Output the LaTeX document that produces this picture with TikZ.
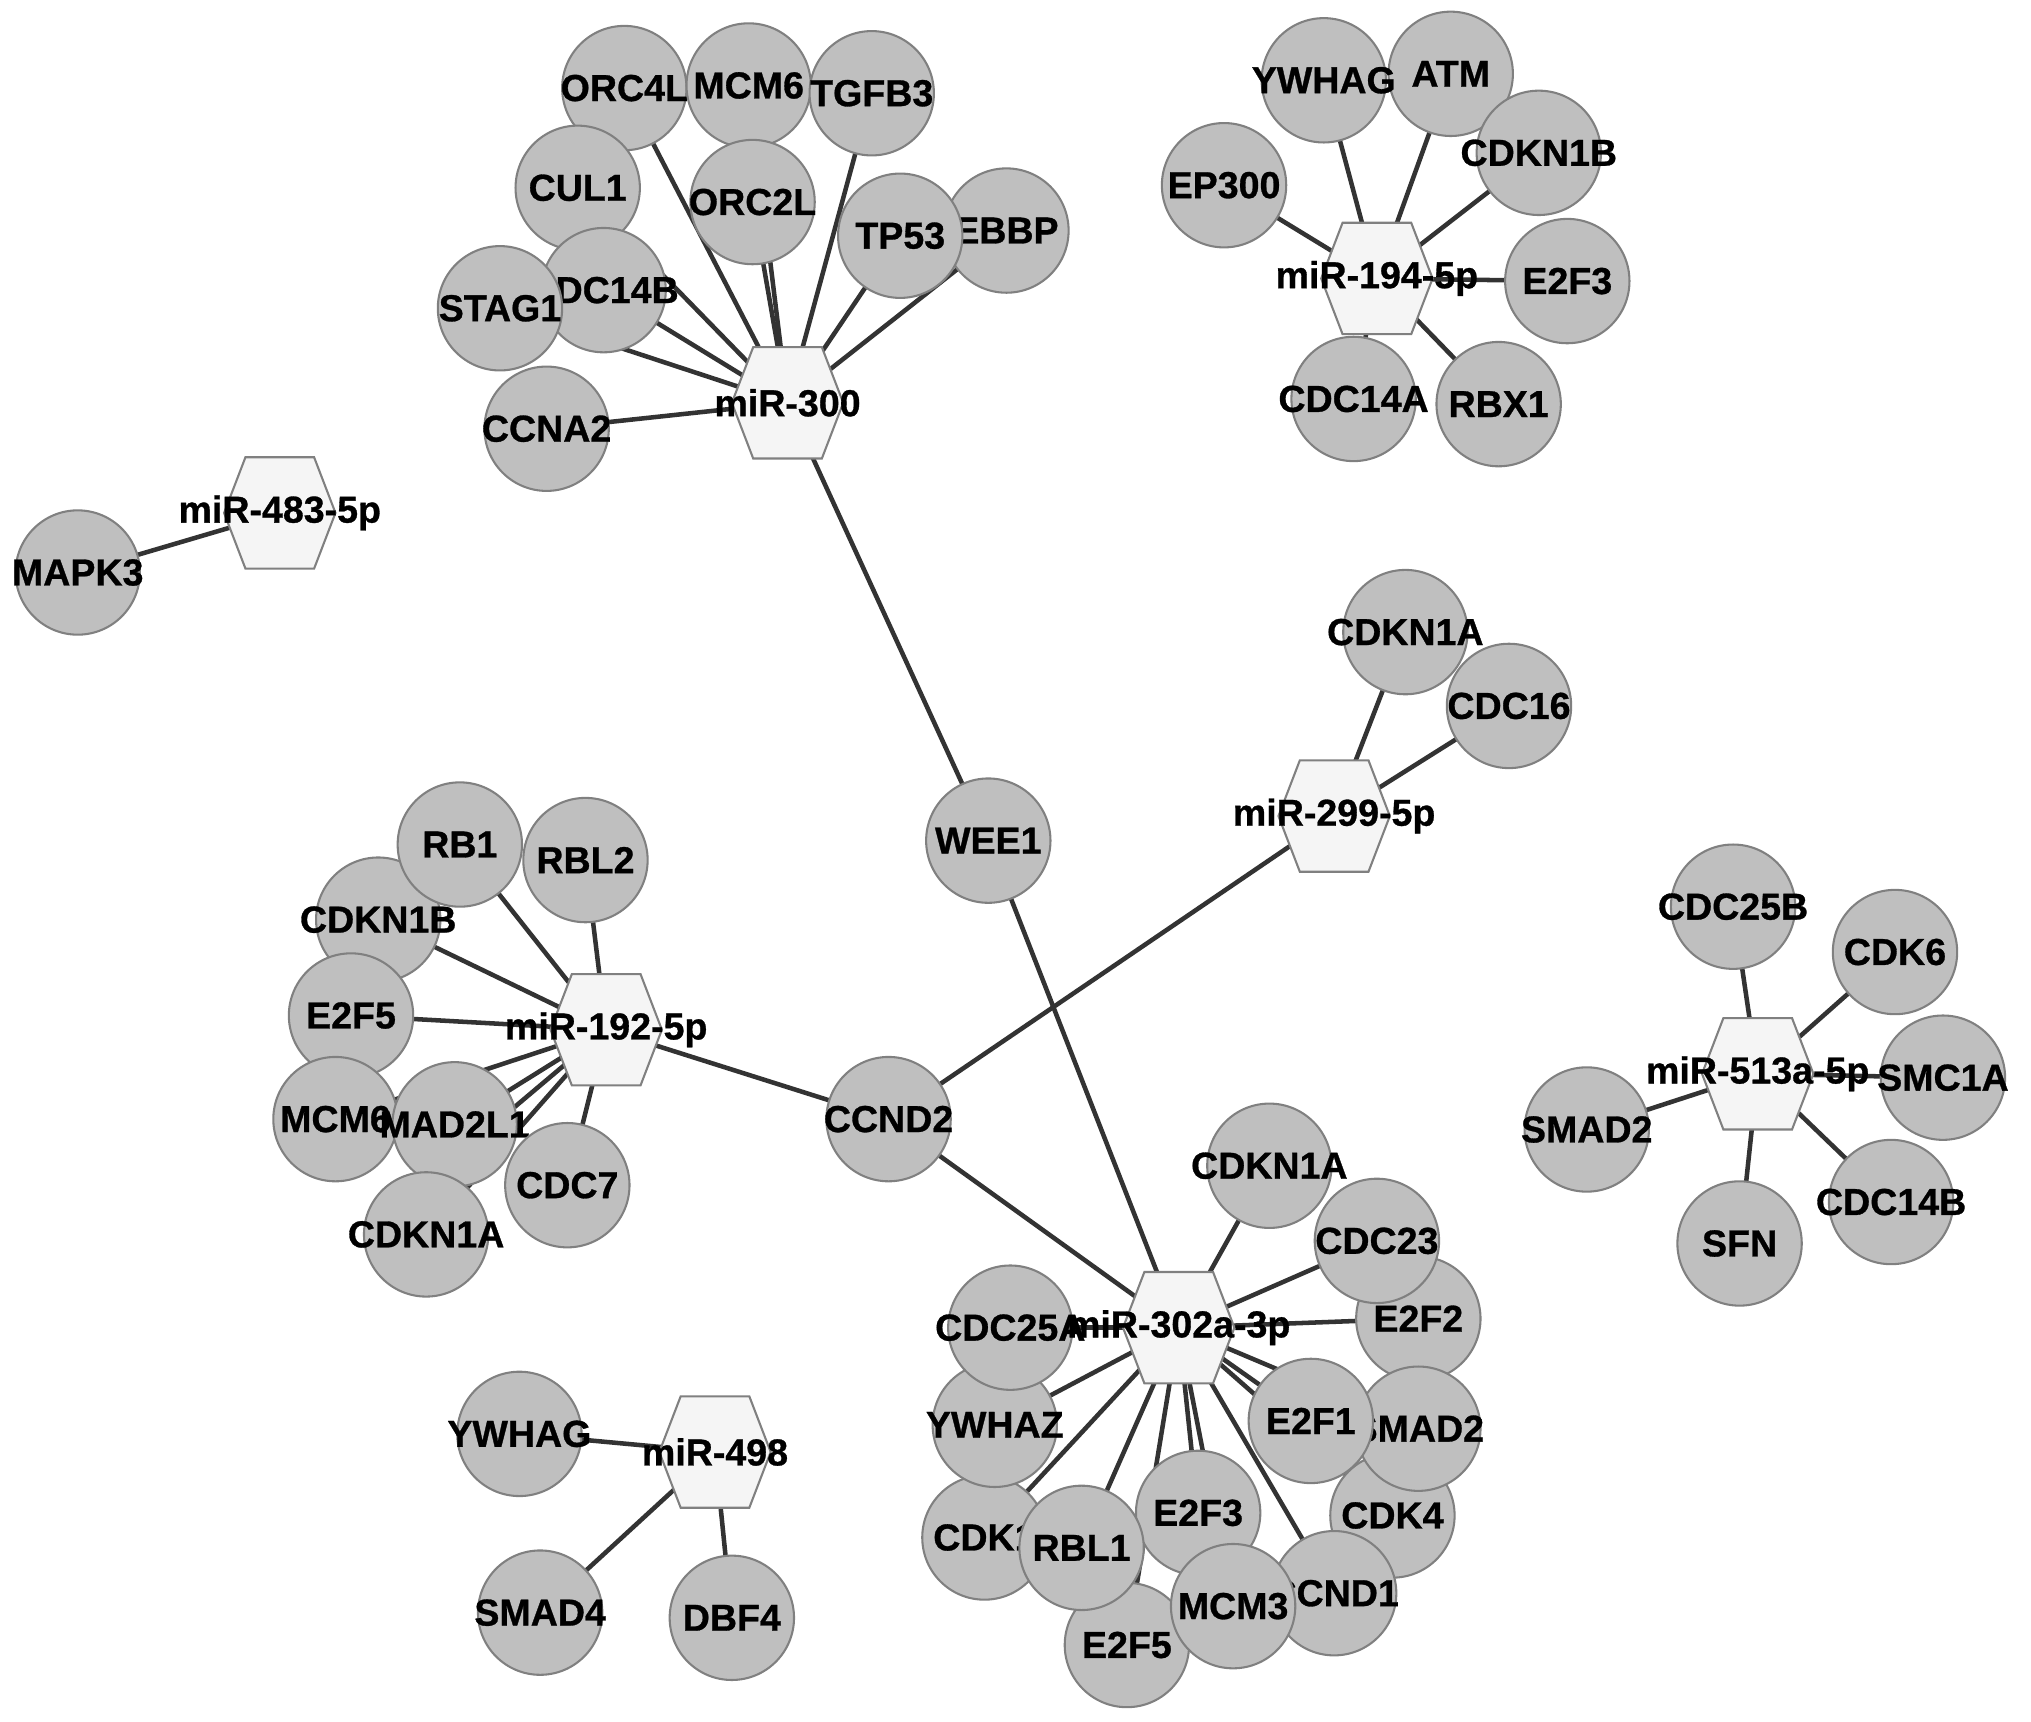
\documentclass[tikz,border=0pt]{standalone}
\usepackage{fontspec}
\setmainfont{Liberation Sans}
\newfontfamily\lblfont[BoldFont={Liberation Sans Bold},BoldFeatures={FakeBold=0.8}]{Liberation Sans}
\pgfdeclarelayer{bg}
\pgfsetlayers{bg,main}
\definecolor{nfill}{gray}{0.75}
\definecolor{nborder}{gray}{0.5}
\definecolor{hfill}{gray}{0.96}
\definecolor{hborder}{gray}{0.5}
\definecolor{edgec}{gray}{0.2}
\newcommand\gfont{\lblfont\fontsize{29}{34}\selectfont\bfseries}
\newcommand\zw[1]{\makebox[0pt][c]{#1}}
\begin{document}
\begin{tikzpicture}[x=1pt,y=-1pt,
  gene/.style={circle, minimum size=96pt, inner sep=0pt, fill=nfill, draw=nborder, line width=1.6pt, font=\gfont},
  mir/.style={rectangle, minimum width=92pt, minimum height=92pt, inner sep=0pt, font=\gfont,
    path picture={\filldraw[fill=hfill, draw=hborder, line width=1.6pt]
      ([xshift=-43pt]path picture bounding box.center)
      -- ([xshift=-26.5pt,yshift=43pt]path picture bounding box.center)
      -- ([xshift=26.5pt,yshift=43pt]path picture bounding box.center)
      -- ([xshift=43pt]path picture bounding box.center)
      -- ([xshift=26.5pt,yshift=-43pt]path picture bounding box.center)
      -- ([xshift=-26.5pt,yshift=-43pt]path picture bounding box.center) -- cycle;}},
  edge/.style={draw=edgec, line width=3.5pt}]
\useasboundingbox (0,0) rectangle (1568,1329);

% ---- miR-300 cluster
\node[gene] (orc4l) at (482,68) {\zw{ORC4L}};
\node[gene] (mcm6a) at (578,66) {\zw{MCM6}};
\node[gene] (tgfb3) at (673,72) {\zw{TGFB3}};
\node[gene] (cul1) at (446,145) {\zw{CUL1}};
\node[gene] (orc2l) at (581,156) {\zw{ORC2L}};
\node[gene] (cdc14ba) at (466,224) {\zw{CDC14B}};
\node[gene] (stag1) at (386,238) {\zw{STAG1}};
\node[gene] (ebbp) at (777,178) {\zw{EBBP}};
\node[gene] (tp53) at (695,182) {\zw{TP53}};
\node[gene] (ccna2) at (422,331) {\zw{CCNA2}};

% ---- miR-194-5p cluster
\node[gene] (ep300) at (945,143) {\zw{EP300}};
\node[gene] (atm) at (1120,57) {\zw{ATM}};
\node[gene] (ywhaga) at (1022,62) {\zw{YWHAG}};
\node[gene] (cdkn1ba) at (1188,118) {\zw{CDKN1B}};
\node[gene] (e2f3a) at (1210,217) {\zw{E2F3}};
\node[gene] (cdc14a) at (1045,308) {\zw{CDC14A}};
\node[gene] (rbx1) at (1157,312) {\zw{RBX1}};

% ---- miR-483-5p
\node[gene] (mapk3) at (60,442) {\zw{MAPK3}};

% ---- miR-299-5p
\node[gene] (cdkn1aa) at (1085,488) {\zw{CDKN1A}};
\node[gene] (cdc16) at (1165,545) {\zw{CDC16}};

% ---- hubs
\node[gene] (wee1) at (763,649) {\zw{WEE1}};
\node[gene] (ccnd2) at (686,864) {\zw{CCND2}};

% ---- miR-192-5p cluster
\node[gene] (cdkn1bb) at (292,710) {\zw{CDKN1B}};
\node[gene] (rb1) at (355,652) {\zw{RB1}};
\node[gene] (rbl2) at (452,664) {\zw{RBL2}};
\node[gene] (e2f5a) at (271,784) {\zw{E2F5}};
\node[gene] (mcm6b) at (259,864) {\zw{MCM6}};
\node[gene] (mad2l1) at (351,868) {\zw{MAD2L1}};
\node[gene] (cdkn1ab) at (329,953) {\zw{CDKN1A}};
\node[gene] (cdc7) at (438,915) {\zw{CDC7}};
\coordinate (hid) at (372,876);

% ---- miR-513a-5p cluster
\node[gene] (cdc25b) at (1338,700) {\zw{CDC25B}};
\node[gene] (cdk6) at (1463,735) {\zw{CDK6}};
\node[gene] (smc1a) at (1500,832) {\zw{SMC1A}};
\node[gene] (smad2a) at (1225,872) {\zw{SMAD2}};
\node[gene] (sfn) at (1343,960) {\zw{SFN}};
\node[gene] (cdc14bb) at (1460,928) {\zw{CDC14B}};

% ---- miR-498 cluster
\node[gene] (ywhagb) at (401,1107) {\zw{YWHAG}};
\node[gene] (smad4) at (417,1245) {\zw{SMAD4}};
\node[gene] (dbf4) at (565,1249) {\zw{DBF4}};

% ---- miR-302a-3p cluster
\node[gene] (cdkn1ac) at (980,900) {\zw{CDKN1A}};
\node[gene] (e2f2) at (1095,1018) {\zw{E2F2}};
\node[gene] (cdc23) at (1063,958) {\zw{CDC23}};
\node[gene] (cdk4) at (1075,1170) {\zw{CDK4}};
\node[gene] (smad2b) at (1095,1103) {\zw{SMAD2}};
\node[gene] (e2f1) at (1012,1097) {\zw{E2F1}};
\node[gene] (ccnd1) at (1030,1230) {\zw{CCND1}};
\node[gene] (e2f5b) at (870,1270) {\zw{E2F5}};
\node[gene] (e2f3b) at (925,1168) {\zw{E2F3}};
\node[gene] (mcm3) at (952,1240) {\zw{MCM3}};
\node[gene] (cdk1) at (760,1187) {\zw{CDK1}};
\node[gene] (ywhaz) at (768,1100) {\zw{YWHAZ}};
\node[gene] (cdc25a) at (780,1025) {\zw{CDC25A}};
\node[gene] (rbl1) at (835,1195) {\zw{RBL1}};

% ---- miRNA hexagons
\node[mir] (m300) at (608,311) {\zw{miR-300}};
\node[mir] (m194) at (1063,215) {\zw{miR-194-5p}};
\node[mir] (m483) at (216,396) {\zw{miR-483-5p}};
\node[mir] (m299) at (1030,630) {\zw{miR-299-5p}};
\node[mir] (m192) at (468,795) {\zw{miR-192-5p}};
\node[mir] (m513) at (1357,829) {\zw{miR-513a-5p}};
\node[mir] (m302) at (910,1025) {\zw{miR-302a-3p}};
\node[mir] (m498) at (552,1121) {\zw{miR-498}};

\begin{pgfonlayer}{bg}
\fill[white] (0,0) rectangle (1568,1329);
\foreach \a/\b in {m300/ccna2, m300/stag1, m300/cdc14ba, m300/cul1, m300/orc4l, m300/orc2l,
  m300/mcm6a, m300/tgfb3, m300/tp53, m300/ebbp, m300/wee1,
  m194/ep300, m194/ywhaga, m194/atm, m194/cdkn1ba, m194/e2f3a, m194/cdc14a, m194/rbx1,
  m483/mapk3,
  m299/cdkn1aa, m299/cdc16, m299/ccnd2,
  m192/rb1, m192/rbl2, m192/cdkn1bb, m192/e2f5a, m192/mcm6b, m192/mad2l1, m192/hid,
  m192/cdkn1ab, m192/cdc7, m192/ccnd2,
  m302/ccnd2, m302/wee1, m302/cdkn1ac, m302/cdc23, m302/e2f2, m302/cdc25a, m302/ywhaz,
  m302/cdk1, m302/rbl1, m302/e2f5b, m302/e2f3b, m302/mcm3, m302/ccnd1, m302/e2f1,
  m302/smad2b, m302/cdk4,
  m513/cdc25b, m513/cdk6, m513/smc1a, m513/smad2a, m513/sfn, m513/cdc14bb,
  m498/ywhagb, m498/smad4, m498/dbf4}
  \draw[edge] (\a.center) -- (\b.center);
\end{pgfonlayer}
\end{tikzpicture}
\end{document}
